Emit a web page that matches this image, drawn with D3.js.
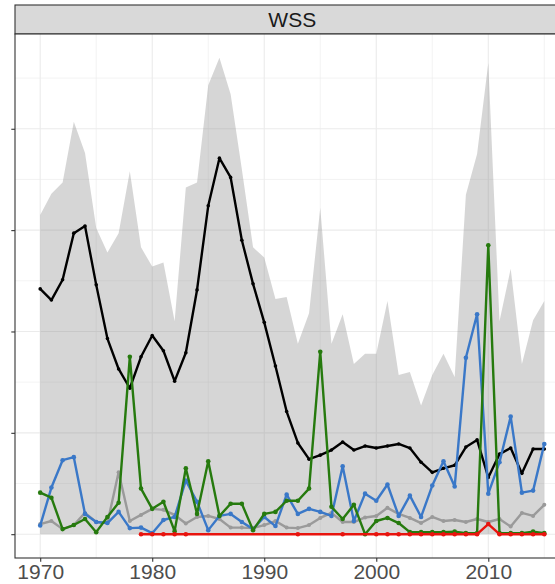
<!DOCTYPE html>
<html>
<head>
<meta charset="utf-8">
<script src="https://cdn.jsdelivr.net/npm/d3@7"></script>
<style>
body { margin: 0; background: #fff; }
svg { display: block; font-family: "Liberation Sans", Arial, sans-serif; }
</style>
</head>
<body>
<svg id="chart" width="555" height="584"></svg>
<script>
const facet = "WSS"
const years = [1970, 1971, 1972, 1973, 1974, 1975, 1976, 1977, 1978, 1979,
	1980, 1981, 1982, 1983, 1984, 1985, 1986, 1987, 1988, 1989,
	1990, 1991, 1992, 1993, 1994, 1995, 1996, 1997, 1998, 1999,
	2000, 2001, 2002, 2003, 2004, 2005, 2006, 2007, 2008, 2009,
	2010, 2011, 2012, 2013, 2014, 2015]
const xTicks = [1970, 1980, 1990, 2000, 2010]
const yTicks = [0, 10, 20, 30, 40]

// ribbon upper bound (lower bound is 0)
const upper = [31.5, 33.6, 34.7, 40.7, 37.6, 30.2, 27.8, 29.7, 35.8, 28.3,
	26.4, 26.8, 21.0, 34.2, 34.7, 44.3, 47.0, 43.4, 36.0, 28.3,
	27.3, 23.2, 23.4, 18.8, 21.8, 32.2, 18.8, 21.7, 16.8, 17.8,
	17.8, 23.0, 15.7, 16.0, 12.7, 15.7, 17.8, 15.5, 33.5, 37.5,
	46.5, 21.0, 26.2, 16.8, 21.1, 23.0]
const black = [24.2, 23.1, 25.1, 29.7, 30.4, 24.6, 19.3, 16.3, 14.4, 17.5,
	19.6, 18.1, 15.1, 17.9, 24.1, 32.4, 37.1, 35.2, 29.0, 24.7,
	20.9, 16.6, 12.1, 9.0, 7.4, 7.8, 8.3, 9.1, 8.3, 8.7,
	8.5, 8.7, 8.9, 8.5, 7.1, 6.1, 6.5, 6.8, 8.6, 9.3,
	5.6, 7.9, 8.5, 6.0, 8.4, 8.4]
const grey = [1.0, 1.3, 0.5, 0.9, 2.1, 1.2, 1.1, 6.1, 1.3, 1.9,
	2.5, 2.4, 1.9, 1.05, 1.7, 1.8, 1.5, 0.65, 0.65, 0.6,
	0.9, 1.3, 0.65, 0.6, 0.9, 1.6, 2.1, 1.2, 1.2, 1.65,
	1.8, 2.6, 2.0, 1.6, 1.1, 1.7, 1.3, 1.4, 1.2, 1.5,
	1.2, 1.5, 0.75, 2.1, 1.8, 2.9]
const blue = [0.85, 4.6, 7.3, 7.6, 2.0, 1.2, 1.1, 2.2, 0.6, 0.65,
	0.1, 1.4, 1.7, 5.3, 3.2, 0.4, 1.8, 2.0, 1.2, 0.5,
	1.7, 0.8, 3.9, 2.0, 2.5, 2.2, 1.8, 6.7, 1.3, 4.0,
	3.3, 4.9, 1.8, 3.8, 1.7, 4.8, 7.2, 4.7, 17.4, 21.7,
	4.0, 7.1, 11.6, 4.1, 4.3, 8.9]
const green = [4.1, 3.6, 0.5, 0.9, 1.5, 0.2, 1.7, 3.1, 17.5, 4.5,
	2.5, 3.2, 0.3, 6.5, 2.0, 7.2, 1.8, 3.0, 3.0, 0.4,
	2.0, 2.2, 3.3, 3.3, 4.5, 18.0, 2.7, 1.5, 2.9, 0.0,
	1.3, 1.6, 1.1, 0.2, 0.2, 0.2, 0.2, 0.25, 0.1, 0.1,
	28.5, 0.1, 0.1, 0.1, 0.25, 0.1]
const red = [null, null, null, null, null, null, null, null, null, 0,
	0, 0, 0, 0, null, null, null, null, null, null,
	null, null, null, 0, null, null, null, 0, null, null,
	0, 0, 0, 0, 0, 0, 0, 0, 0, 0,
	1.0, 0, 0, 0, 0, 0]

const seriesList = [
	{ values: black, color: "#000000", width: 2.4, r: 1.8 },
	{ values: grey, color: "#9a9a9a", width: 2.4, r: 2 },
	{ values: blue, color: "#3a78c8", width: 2.4, r: 2.3 },
	{ values: green, color: "#267a0e", width: 2.4, r: 2.3 },
	{ values: red, color: "#e8140e", width: 2.4, r: 2.3 }
]

const svg = d3.select("#chart")
const pLeft = 15, pRight = 569.5, pTop = 34, pBottom = 558

let xMin = d3.min(years), xMax = d3.max(years)
let xPad = (xMax - xMin) * 0.05
let x = d3.scaleLinear().domain([xMin - xPad, xMax + xPad]).range([pLeft, pRight])
let yHi = d3.max(upper)
let y = d3.scaleLinear().domain([-yHi * 0.05, yHi * 1.05]).range([pBottom, pTop])

// strip
svg.append("rect").attr("x", pLeft).attr("y", 5).attr("width", pRight - pLeft).attr("height", pTop - 5)
	.attr("fill", "#d9d9d9").attr("stroke", "#333").attr("stroke-width", 1.1)
svg.append("text").attr("x", (pLeft + pRight) / 2).attr("y", 27).attr("text-anchor", "middle")
	.attr("font-size", 21).attr("fill", "#1a1a1a").text(facet)

// panel + grid
svg.append("rect").attr("x", pLeft).attr("y", pTop).attr("width", pRight - pLeft).attr("height", pBottom - pTop).attr("fill", "#fff")
let grid = svg.append("g")
let xMinor = xTicks.map(d => d + 5)
let yMinor = yTicks.map(d => d + 5)
grid.selectAll(".vminor").data(xMinor).enter().append("line")
	.attr("x1", d => x(d)).attr("x2", d => x(d)).attr("y1", pTop).attr("y2", pBottom)
	.attr("stroke", "#ebebeb").attr("stroke-width", 0.6)
grid.selectAll(".hminor").data(yMinor).enter().append("line")
	.attr("y1", d => y(d)).attr("y2", d => y(d)).attr("x1", pLeft).attr("x2", pRight)
	.attr("stroke", "#ebebeb").attr("stroke-width", 0.6)
grid.selectAll(".vmajor").data(xTicks).enter().append("line")
	.attr("x1", d => x(d)).attr("x2", d => x(d)).attr("y1", pTop).attr("y2", pBottom)
	.attr("stroke", "#ebebeb").attr("stroke-width", 1.1)
grid.selectAll(".hmajor").data(yTicks).enter().append("line")
	.attr("y1", d => y(d)).attr("y2", d => y(d)).attr("x1", pLeft).attr("x2", pRight)
	.attr("stroke", "#ebebeb").attr("stroke-width", 1.1)

svg.append("clipPath").attr("id", "clip").append("rect")
	.attr("x", pLeft).attr("y", pTop).attr("width", pRight - pLeft).attr("height", pBottom - pTop)
let plot = svg.append("g").attr("clip-path", "url(#clip)")

// ribbon
let area = d3.area().x((d, i) => x(years[i])).y0(y(0)).y1(d => y(d))
plot.append("path").datum(upper).attr("d", area).attr("fill", "#808080").attr("fill-opacity", 0.32)

// lines + points
seriesList.forEach(s => {
	let pts = years.map((yr, i) => ({ year: yr, v: s.values[i] })).filter(d => d.v != null)
	let line = d3.line().x(d => x(d.year)).y(d => y(d.v))
	plot.append("path").datum(pts).attr("d", line).attr("fill", "none")
		.attr("stroke", s.color).attr("stroke-width", s.width).attr("stroke-linejoin", "round")
	plot.selectAll(null).data(pts).enter().append("circle")
		.attr("cx", d => x(d.year)).attr("cy", d => y(d.v)).attr("r", s.r).attr("fill", s.color)
})

// border
svg.append("rect").attr("x", pLeft).attr("y", pTop).attr("width", pRight - pLeft).attr("height", pBottom - pTop)
	.attr("fill", "none").attr("stroke", "#333").attr("stroke-width", 1.1)

// axes
let xAxis = d3.axisBottom(x).tickValues(xTicks).tickFormat(d3.format("d")).tickSize(3.7).tickPadding(2)
let gx = svg.append("g").attr("transform", `translate(0,${pBottom})`).call(xAxis)
gx.select(".domain").remove()
gx.selectAll("line").attr("stroke", "#333").attr("stroke-width", 1.1)
gx.selectAll("text").attr("font-size", 21).attr("fill", "#4d4d4d").attr("font-family", "Liberation Sans, Arial, sans-serif")

let yAxis = d3.axisLeft(y).tickValues(yTicks).tickFormat("").tickSize(3.7)
let gy = svg.append("g").attr("transform", `translate(${pLeft},0)`).call(yAxis)
gy.select(".domain").remove()
gy.selectAll("line").attr("stroke", "#333").attr("stroke-width", 1.1)
</script>
</body>
</html>
